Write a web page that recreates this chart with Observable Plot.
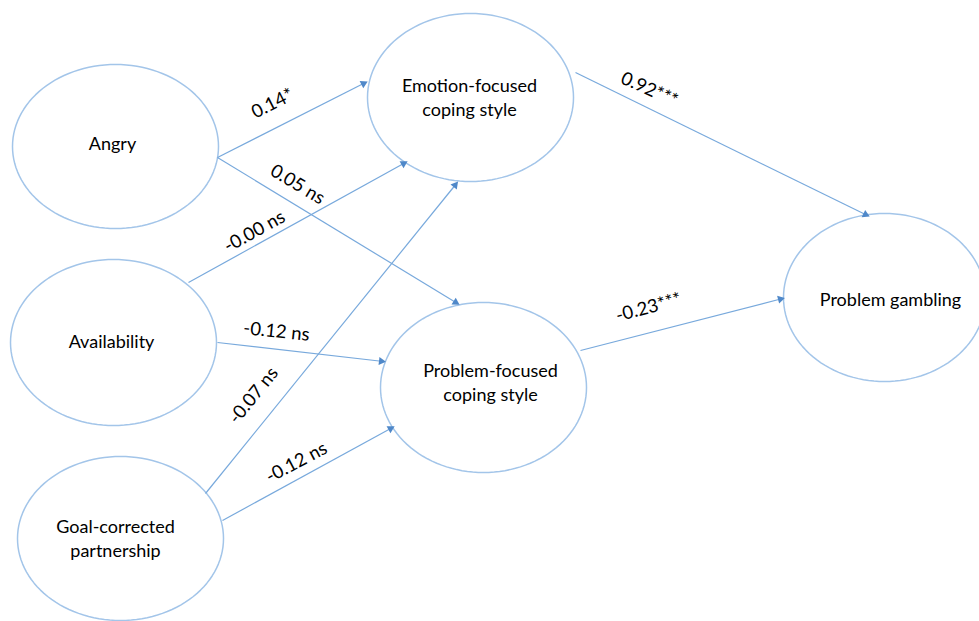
<!DOCTYPE html>
<html><head><meta charset="utf-8">
<script src="https://cdn.jsdelivr.net/npm/d3@7"></script>
<script src="https://cdn.jsdelivr.net/npm/@observablehq/plot@0.6"></script>
<style>body{margin:0;background:#fff;overflow:hidden}</style>
</head><body><div id="chart"></div>
<script>
// Nodes (latent variables) — positions
const nodeNames = ["Angry", "Availability", "Goal-corrected\npartnership", "Emotion-focused\ncoping style", "Problem-focused\ncoping style", "Problem gambling"];
const nodeX = [115, 113, 120, 470, 483, 884];
const nodeY = [146, 342, 538, 97, 387, 297];
const nodeRx = [103, 103, 103, 103, 103, 101];
const nodeRy = [82, 83, 82, 84, 85, 84];
const labelX = [112, 111, 115, 469, 490, 890];
const labelY = [142, 340, 537, 96, 381, 298];

// Paths (edges) with coefficients
const edgeFrom = ["Angry", "Angry", "Availability", "Availability", "Goal-corrected", "Goal-corrected", "Emotion-focused", "Problem-focused"];
const edgeTo = ["Emotion-focused", "Problem-focused", "Emotion-focused", "Problem-focused", "Emotion-focused", "Problem-focused", "Problem gambling", "Problem gambling"];
const edgeX1 = [217, 217, 188, 217, 205, 222, 575, 580];
const edgeY1 = [157, 157, 282, 342, 493, 520, 72, 350];
const edgeX2 = [365, 457, 405, 383, 456, 392, 867, 782];
const edgeY2 = [82, 303, 162, 361, 183, 427, 215, 298];
const coefs = ["0.14*", "0.05 ns", "-0.00 ns", "-0.12 ns", "-0.07 ns", "-0.12 ns", "0.92***", "-0.23***"];
const coefX = [272, 297, 254, 276, 253, 296, 649, 648];
const coefY = [103, 184, 231, 331, 395, 462, 89, 307];
const coefAngle = [-27, 31, -29, 6, -51, -28, 24, -15];

const W = 979, H = 621;

const nodes = nodeNames.map((name, i) => ({name, x: nodeX[i], y: nodeY[i], rx: nodeRx[i], ry: nodeRy[i], lx: labelX[i], ly: labelY[i]}));
const ellipsePts = nodes.flatMap(n => d3.range(0, 120).map(k => {
  const t = k / 120 * 2 * Math.PI;
  return {name: n.name, x: n.x + n.rx * Math.cos(t), y: n.y + n.ry * Math.sin(t)};
}));
const edges = coefs.map((c, i) => {
  const dx = edgeX2[i] - edgeX1[i], dy = edgeY2[i] - edgeY1[i];
  const len = Math.hypot(dx, dy), ux = dx / len, uy = dy / len;
  return {
    from: edgeFrom[i], to: edgeTo[i],
    x1: edgeX1[i], y1: edgeY1[i], x2: edgeX2[i], y2: edgeY2[i],
    hx: edgeX2[i] - 2.2 * ux, hy: edgeY2[i] - 2.2 * uy,
    hr: Math.atan2(dy, dx) * 180 / Math.PI + 90,
    label: c, lx: coefX[i], ly: coefY[i], angle: coefAngle[i]
  };
});

const font = "Lato, 'Open Sans', sans-serif";
const chart = Plot.plot({
  width: W, height: H,
  margin: 0,
  x: {domain: [0, W], range: [0, W], axis: null},
  y: {domain: [0, H], range: [0, H], axis: null},
  style: {background: "#fff", fontFamily: font},
  marks: [
    Plot.line(ellipsePts, {x: "x", y: "y", z: "name", curve: "linear-closed", stroke: "#a3c5e9", strokeWidth: 1.5}),
    Plot.link(edges, {x1: "x1", y1: "y1", x2: "x2", y2: "y2", stroke: "#78a9dc", strokeWidth: 1.2}),
    Plot.dot(edges, {x: "hx", y: "hy", symbol: "triangle", r: 3, fill: "#4f88c9", stroke: "none", rotate: "hr"}),
    Plot.text(edges, {x: "lx", y: "ly", text: "label", rotate: "angle", fontSize: 18.5, fill: "#000", fontFamily: font}),
    Plot.text(nodes, {x: "lx", y: "ly", text: "name", fontSize: 18, lineHeight: 1.3, fill: "#000", fontFamily: font})
  ]
});
document.getElementById("chart").appendChild(chart);
</script>
</body></html>
